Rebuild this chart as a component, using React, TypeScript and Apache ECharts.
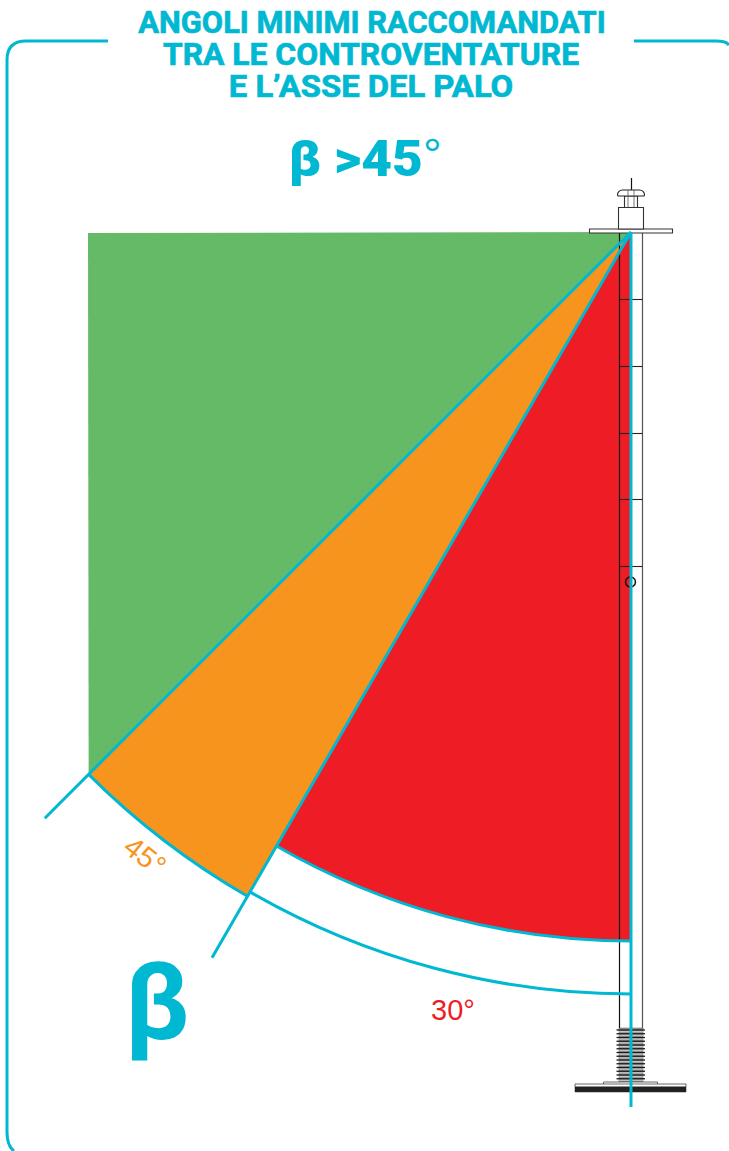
import React, { useEffect, useRef } from "react";
import * as echarts from "echarts";

const TITLE_LINES = ["ANGOLI MINIMI RACCOMANDATI", "TRA LE CONTROVENTATURE", "E L\u2019ASSE DEL PALO"];
const HEADLINE = "\u03b2 >45";
const SYMBOL = "\u03b2";
// Angles from the pole axis (degrees) and radii on the polar scale
const RED_FROM = 0;
const RED_TO = 30;
const ORANGE_TO = 45;
const GREEN_TO = 89.9;
const RED_RADIUS = 709;
const ORANGE_RADIUS = 767;
const OPEN_ARC_RADIUS = 762;
const GREEN_TOP_RADIUS = 543;
const BRACE_30_RADIUS = 838;
const BRACE_45_RADIUS = 829;

const CYAN = "#00B8D1";
const GREEN = "#64BA66";
const ORANGE = "#F7941D";
const RED = "#EE1D25";
const INK = "#2a2a2a";
const BOLD = "Roboto, sans-serif";

const AX = 631;
const AY = 232;

echarts.graphic.registerShape(
  "frame",
  echarts.graphic.extendPath("M108 41 L26 41 Q7 41 7 60 L7 1132 Q7 1146 14 1151 M634 41 L716 41 Q726 41 729 45", {})
);

function App() {
  const ref = useRef<HTMLDivElement>(null);
  useEffect(() => {
    const chart = echarts.init(ref.current!, undefined, { renderer: "svg" });
    const line = (x1: number, y1: number, x2: number, y2: number, stroke = INK, lineWidth = 1, z = 5) => ({
      type: "line", z, shape: { x1, y1, x2, y2 }, style: { stroke, lineWidth },
    });
    const rect = (x: number, y: number, width: number, height: number, fill: string, stroke = INK, lineWidth = 1, r: any = 0) => ({
      type: "rect", z: 5, shape: { x, y, width, height, r }, style: { fill, stroke, lineWidth },
    });
    const label = (text: string, x: number, y: number, font: string, fill: string, scaleX = 1, rotation = 0, weight = 0) => ({
      type: "text", z: 6, x, y, scaleX, rotation,
      style: { text, font, fill, textAlign: "center", textVerticalAlign: "middle", stroke: weight ? fill : undefined, lineWidth: weight },
    });

    const pole: any[] = [
      line(619.5, 233, 619.5, 1029, "#111", 1.2),
      line(642.5, 233, 642.5, 1029, "#555", 1.2),
      line(631.5, 178, 631.5, 230, "#111", 1.2),
      ...[299.5, 366.5, 433.5, 499.5, 566.5].map((y) => line(619.5, y, 642.5, y, "#222", 1.1)),
      { type: "circle", z: 5, shape: { cx: 630.5, cy: 582, r: 5 }, style: { fill: "none", stroke: "#111", lineWidth: 1.5 } },
      rect(589.5, 229, 83, 4, "#fff", "#333", 1.1),
      rect(618.5, 207.5, 25, 21.5, "#fff", "#333", 1.1),
      rect(624.5, 196, 13, 11.5, "#fff", "#333", 1.1),
      rect(617.5, 190, 27, 6, "#fff", "#222", 1.1, [5, 5, 1, 1]),
      line(628, 190, 628, 207, "#555", 0.8),
      line(634, 190, 634, 207, "#555", 0.8),
      rect(619, 1028, 24, 54, "#9a9a9a", "#555", 0.5),
    ];
    for (let y = 1030; y < 1082; y += 3.75) {
      pole.push(line(616.5, y, 645, y, "#1a1a1a", 1.3));
      pole.push(line(619, y + 1.6, 643, y + 1.6, "#e8e8e8", 0.6));
    }
    pole.push(rect(603.5, 1082, 54, 3, "#fff", "#444", 0.8));
    pole.push(rect(575, 1084, 111, 3, "#fff", "#444", 0.8));
    pole.push(rect(575, 1087, 111, 5, "#222", "#222", 0.5));

    chart.setOption({
      animation: false,
      polar: { center: [AX, AY], radius: 900 },
      angleAxis: { type: "value", min: 0, max: 360, startAngle: 270, clockwise: true, show: false },
      radiusAxis: { type: "value", min: 0, max: 900, show: false },
      series: [
        {
          type: "custom", coordinateSystem: "polar", z: 2, silent: true,
          data: [[0, 0]],
          renderItem: (params: any, api: any) => {
            const cs = params.coordSys;
            const sector = (rad: number, from: number, to: number, fill: string) => {
              const a = api.coord([rad, from]);
              const b = api.coord([rad, to]);
              return {
                type: "sector",
                shape: {
                  cx: cs.cx, cy: cs.cy, r: Math.hypot(a[0] - cs.cx, a[1] - cs.cy), r0: 0,
                  startAngle: Math.atan2(a[1] - cs.cy, a[0] - cs.cx),
                  endAngle: Math.atan2(b[1] - cs.cy, b[0] - cs.cx),
                },
                style: { fill },
              };
            };
            return {
              type: "group",
              children: [
                {
                  type: "polygon",
                  shape: { points: [api.coord([0, 0]), api.coord([ORANGE_RADIUS, ORANGE_TO]), api.coord([GREEN_TOP_RADIUS, GREEN_TO])] },
                  style: { fill: GREEN },
                },
                sector(ORANGE_RADIUS, RED_TO, ORANGE_TO, ORANGE),
                sector(RED_RADIUS, RED_FROM, RED_TO, RED),
              ],
            };
          },
        },
        {
          type: "custom", coordinateSystem: "polar", z: 10, silent: true,
          data: [[0, 0]],
          renderItem: (params: any, api: any) => {
            const cs = params.coordSys;
            const stroke = { stroke: CYAN, fill: "none", lineWidth: 3 };
            const spoke = (rad: number, beta: number) => {
              const p = api.coord([rad, beta]);
              return { type: "line", shape: { x1: cs.cx, y1: cs.cy, x2: p[0], y2: p[1] }, style: stroke };
            };
            const arc = (rad: number, from: number, to: number) => {
              const a = api.coord([rad, from]);
              const b = api.coord([rad, to]);
              return {
                type: "arc",
                shape: {
                  cx: cs.cx, cy: cs.cy, r: Math.hypot(a[0] - cs.cx, a[1] - cs.cy),
                  startAngle: Math.atan2(a[1] - cs.cy, a[0] - cs.cx),
                  endAngle: Math.atan2(b[1] - cs.cy, b[0] - cs.cx),
                },
                style: stroke,
              };
            };
            return {
              type: "group",
              children: [
                spoke(875, RED_FROM),
                spoke(BRACE_30_RADIUS, RED_TO),
                spoke(BRACE_45_RADIUS, ORANGE_TO),
                arc(RED_RADIUS, RED_FROM, RED_TO),
                arc(OPEN_ARC_RADIUS, RED_FROM, RED_TO),
                arc(ORANGE_RADIUS, RED_TO, ORANGE_TO),
              ],
            };
          },
        },
      ],
      graphic: {
        elements: [
          { type: "frame", z: 1, style: { fill: "none", stroke: CYAN, lineWidth: 3 } },
          label(TITLE_LINES[0], 372, 22, `700 32px ${BOLD}`, CYAN, 0.965, 0, 0.7),
          label(TITLE_LINES[1], 371, 54, `700 32px ${BOLD}`, CYAN, 0.995, 0, 0.7),
          label(TITLE_LINES[2], 371, 86, `700 32px ${BOLD}`, CYAN, 1.025, 0, 0.7),
          {
            type: "text", z: 6, x: 365, y: 159, scaleX: 1.064,
            style: {
              text: `{a|${HEADLINE}}{b|\u00b0}`,
              textAlign: "center", textVerticalAlign: "middle", fill: CYAN,
              rich: {
                a: { font: `900 50px ${BOLD}`, fill: CYAN },
                b: { font: `400 44px "Liberation Sans", sans-serif`, fill: CYAN, padding: [0, 0, 8, 0] },
              },
            },
          },
          label(SYMBOL, 157, 1002, `700 108px ${BOLD}`, CYAN),
          label(`${ORANGE_TO}\u00b0`, 145, 856, `400 29px "Liberation Sans", sans-serif`, ORANGE, 1, (-38 * Math.PI) / 180),
          label(`${RED_TO}\u00b0`, 453, 1010, `400 29px "Liberation Sans", sans-serif`, RED),
          ...pole,
        ],
      },
    });
    return () => chart.dispose();
  }, []);
  return <div ref={ref} style={{ position: "absolute", left: 0, top: 0, width: 729, height: 1151, overflow: "hidden" }} />;
}

export default App;
